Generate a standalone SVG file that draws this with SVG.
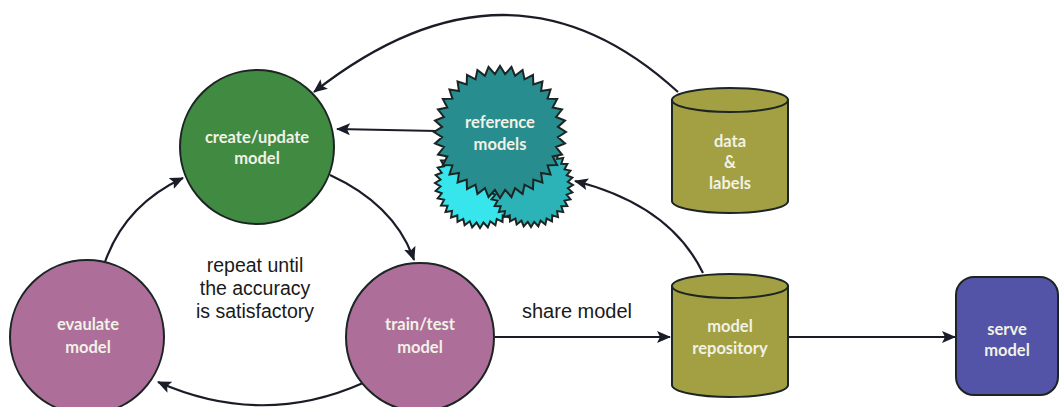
<svg xmlns="http://www.w3.org/2000/svg" xmlns:xlink="http://www.w3.org/1999/xlink" width="1061" height="407" viewBox="0 0 1061 407">
<style>
.node-stroke{stroke:#1c2424;stroke-width:2}
.lbl{font-family:Lato,"Noto Sans",sans-serif;font-weight:700;font-size:16.5px;fill:#f1f2e6;text-anchor:middle}
.plain{font-family:"Liberation Sans",Arial,sans-serif;font-size:19.5px;fill:#1a1a1a;text-anchor:middle}
.conn{fill:none;stroke:#1a1c28;stroke-width:2.2}
</style>
<defs>
<marker id="ah" viewBox="0 0 14 12" refX="13" refY="6" markerWidth="14" markerHeight="12" markerUnits="userSpaceOnUse" orient="auto">
<path d="M0,0 L14,6 L0,12 L3,6 Z" fill="#1a1c28"/>
</marker>
<polygon id="burst" vector-effect="non-scaling-stroke" points="100,0 87.7,7.7 98.5,17.4 85,22.8 94,34.2 79.8,37.2 86.6,50 72.1,50.5 76.6,64.3 62.2,62.2 64.3,76.6 50.5,72.1 50,86.6 37.2,79.8 34.2,94 22.8,85 17.4,98.5 7.7,87.7 0,100 -7.7,87.7 -17.4,98.5 -22.8,85 -34.2,94 -37.2,79.8 -50,86.6 -50.5,72.1 -64.3,76.6 -62.2,62.2 -76.6,64.3 -72.1,50.5 -86.6,50 -79.8,37.2 -94,34.2 -85,22.8 -98.5,17.4 -87.7,7.7 -100,0 -87.7,-7.7 -98.5,-17.4 -85,-22.8 -94,-34.2 -79.8,-37.2 -86.6,-50 -72.1,-50.5 -76.6,-64.3 -62.2,-62.2 -64.3,-76.6 -50.5,-72.1 -50,-86.6 -37.2,-79.8 -34.2,-94 -22.8,-85 -17.4,-98.5 -7.7,-87.7 0,-100 7.7,-87.7 17.4,-98.5 22.8,-85 34.2,-94 37.2,-79.8 50,-86.6 50.5,-72.1 64.3,-76.6 62.2,-62.2 76.6,-64.3 72.1,-50.5 86.6,-50 79.8,-37.2 94,-34.2 85,-22.8 98.5,-17.4 87.7,-7.7"/>
</defs>
<rect width="1061" height="407" fill="#ffffff"/>

<g id="connectors">
<path class="conn" d="M678,92 Q510,-62 314,92" marker-end="url(#ah)"/>
<path class="conn" d="M437,131 L337,129" marker-end="url(#ah)"/>
<path class="conn" d="M330,175 Q395,205 414,260" marker-end="url(#ah)"/>
<path class="conn" d="M363,383 Q262,428 158,382" marker-end="url(#ah)"/>
<path class="conn" d="M105,262 Q125,205 183,178" marker-end="url(#ah)"/>
<path class="conn" d="M495,337 L670,337" marker-end="url(#ah)"/>
<path class="conn" d="M703,273 Q670,205 575,181" marker-end="url(#ah)"/>
<path class="conn" d="M788,337 L955,337" marker-end="url(#ah)"/>
</g>

<g id="create-update-model">
<circle cx="257" cy="147" r="77" fill="#408a42" class="node-stroke"/>
<text class="lbl" x="257" y="143">create/update</text>
<text class="lbl" x="257" y="164">model</text>
</g>

<g id="evaluate-model">
<circle cx="87" cy="337" r="77" fill="#ad6f99" class="node-stroke"/>
<text class="lbl" x="88" y="330">evaulate</text>
<text class="lbl" x="88" y="353">model</text>
</g>

<g id="train-test-model">
<circle cx="420" cy="337" r="74" fill="#ad6f99" class="node-stroke"/>
<text class="lbl" x="420" y="330">train/test</text>
<text class="lbl" x="420" y="353">model</text>
</g>

<g id="reference-models">
<use xlink:href="#burst" href="#burst" transform="translate(480,183) scale(0.45)" fill="#36e6ec" stroke="#1c2424" stroke-width="2"/>
<use xlink:href="#burst" href="#burst" transform="translate(531,185) scale(0.42)" fill="#2bb3b7" stroke="#1c2424" stroke-width="2"/>
<use xlink:href="#burst" href="#burst" transform="translate(500,132) scale(0.66)" fill="#288d8e" stroke="#1c2424" stroke-width="2"/>
<text class="lbl" x="500" y="128">reference</text>
<text class="lbl" x="500" y="150">models</text>
</g>

<g id="data-labels">
<path d="M672,100 L672,201 A58,12 0 0 0 788,201 L788,100 Z" fill="#a2a042" class="node-stroke"/>
<ellipse cx="730" cy="100" rx="58" ry="12" fill="#a2a042" class="node-stroke"/>
<text class="lbl" x="730" y="147">data</text>
<text class="lbl" x="730" y="168">&amp;</text>
<text class="lbl" x="730" y="189">labels</text>
</g>

<g id="model-repository">
<path d="M672,286 L672,385 A58,12 0 0 0 788,385 L788,286 Z" fill="#a2a042" class="node-stroke"/>
<ellipse cx="730" cy="286" rx="58" ry="12" fill="#a2a042" class="node-stroke"/>
<text class="lbl" x="730" y="332">model</text>
<text class="lbl" x="730" y="354">repository</text>
</g>

<g id="serve-model">
<rect x="956" y="277" width="102" height="118" rx="18" fill="#5353a7" class="node-stroke"/>
<text class="lbl" x="1007" y="335">serve</text>
<text class="lbl" x="1007" y="356">model</text>
</g>

<g id="labels">
<text class="plain" x="255" y="272">repeat until</text>
<text class="plain" x="255" y="295">the accuracy</text>
<text class="plain" x="255" y="318">is satisfactory</text>
<text class="plain" x="577" y="318" style="font-size:20px">share model</text>
</g>
</svg>
